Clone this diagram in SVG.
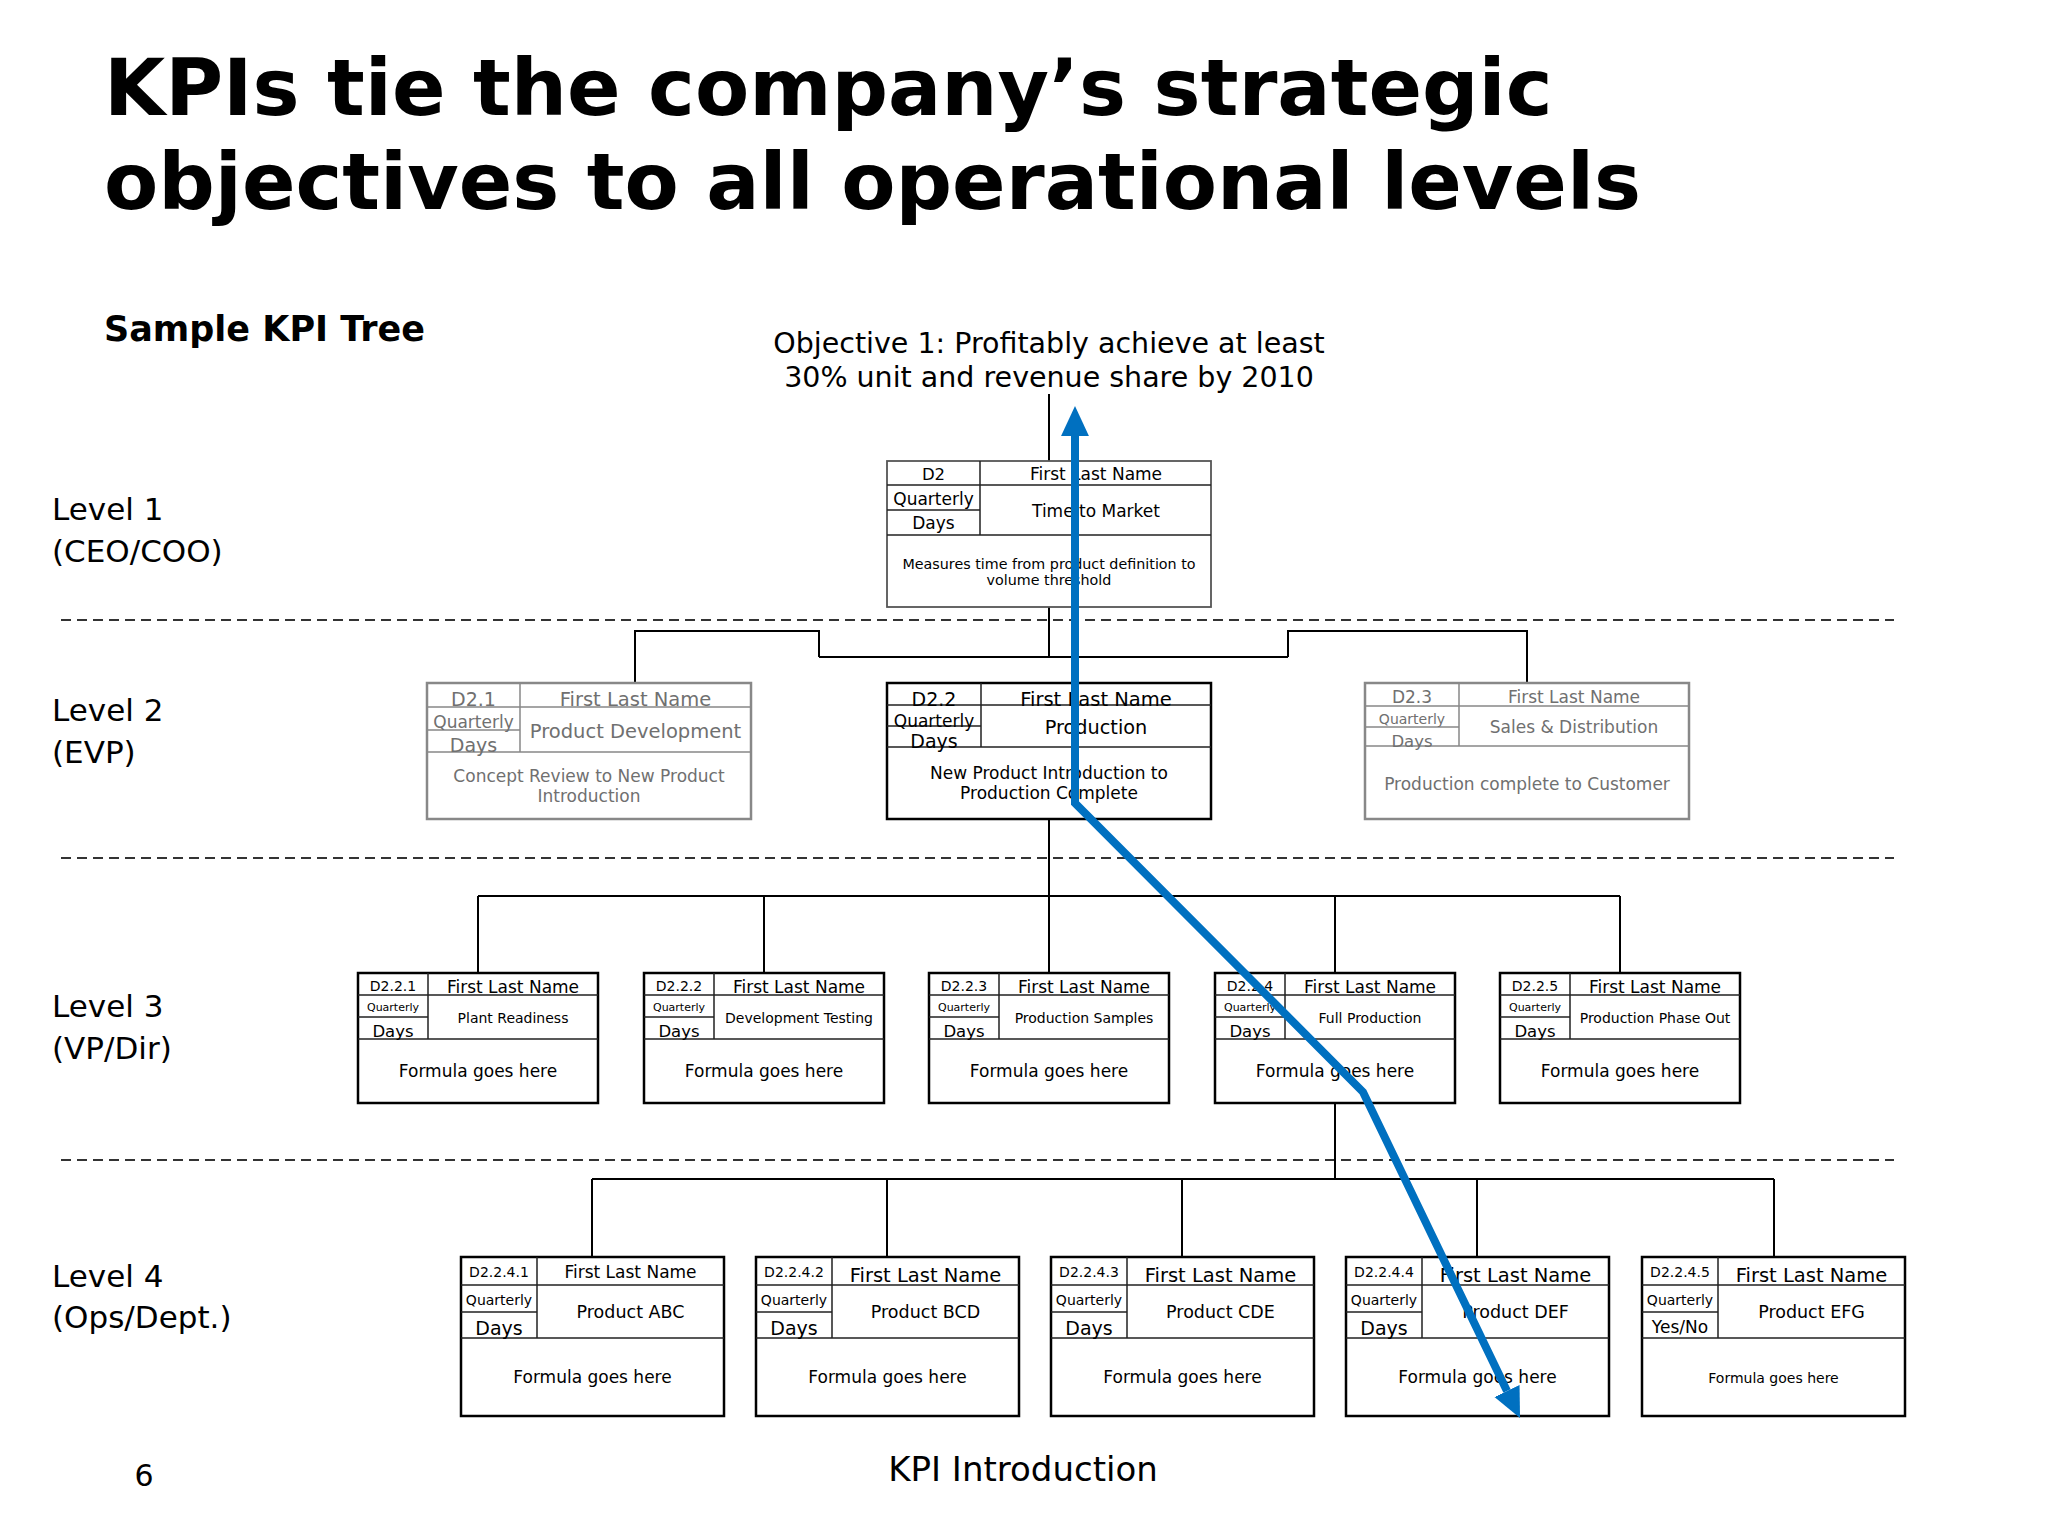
<svg xmlns="http://www.w3.org/2000/svg" width="2048" height="1536" viewBox="0 0 2048 1536">
<style>
text{font-family:"DejaVu Sans",Verdana,sans-serif;fill:#000}
.c{text-anchor:middle}
.title{font-weight:bold;font-size:79px}
.sub{font-weight:bold;font-size:35px}
.lvl{font-size:31px}
.box{fill:#fff;stroke:#000;stroke-width:2.5}
.ln{stroke:#000;stroke-width:2;fill:none}
.thin{stroke:#222;stroke-width:1.5;fill:none}
.g .box{stroke:#888}
.g .thin{stroke:#888}
.g text{fill:#707070}
.b1 .box{stroke:#555;stroke-width:1.8}
.dash{stroke:#333;stroke-width:2;stroke-dasharray:10 6}
.conn{stroke:#000;stroke-width:2;fill:none}
.arrow{stroke:#0070C0;stroke-width:8;fill:none;stroke-linejoin:miter}
</style>
<defs>
<marker id="ah" markerUnits="userSpaceOnUse" markerWidth="30" markerHeight="30" refX="0" refY="13" orient="auto-start-reverse" viewBox="0 0 28 26">
<path d="M0,0 L28,13 L0,26 Z" fill="#0070C0"/>
</marker>
</defs>
<rect width="2048" height="1536" fill="#fff"/>

<text class="title" x="104" y="115">KPIs tie the company’s strategic</text>
<text class="title" x="104" y="209">objectives to all operational levels</text>
<text class="sub" x="104" y="341">Sample KPI Tree</text>
<text class="c" x="1049" y="353" style="font-size:28.5px">Objective 1: Profitably achieve at least</text>
<text class="c" x="1049" y="387" style="font-size:28.5px">30% unit and revenue share by 2010</text>

<g id="level-labels">
<text class="lvl" x="52" y="520">Level 1</text>
<text class="lvl" x="52" y="562">(CEO/COO)</text>
<text class="lvl" x="52" y="721">Level 2</text>
<text class="lvl" x="52" y="763">(EVP)</text>
<text class="lvl" x="52" y="1017">Level 3</text>
<text class="lvl" x="52" y="1059">(VP/Dir)</text>
<text class="lvl" x="52" y="1287">Level 4</text>
<text class="lvl" x="52" y="1328">(Ops/Dept.)</text>
</g>

<g id="separators">
<line class="dash" x1="61" y1="620" x2="1894" y2="620"/>
<line class="dash" x1="61" y1="858" x2="1894" y2="858"/>
<line class="dash" x1="61" y1="1160" x2="1894" y2="1160"/>
</g>

<g id="connectors">
<line class="conn" x1="1049" y1="394" x2="1049" y2="461"/>
<path class="conn" d="M1049,607 V657 M819,657 H1288 M819,657 V631 H635 V683 M1288,657 V631 H1527 V683"/>
<path class="conn" d="M1049,819 V896 M478,896 H1620 M478,896 V973 M764,896 V973 M1049,896 V973 M1335,896 V973 M1620,896 V973"/>
<path class="conn" d="M1335,1103 V1179 M592,1179 H1774 M592,1179 V1257 M887,1179 V1257 M1182,1179 V1257 M1477,1179 V1257 M1774,1179 V1257"/>
</g>

<g id="node-d2" class="b1">
<rect class="box" x="887" y="461" width="324" height="146"/>
<path class="thin" d="M980,461 V535 M887,485 H1211 M887,510 H980 M887,535 H1211"/>
<text class="c" x="933.5" y="480" style="font-size:16.5px">D2</text>
<text class="c" x="1096" y="480" style="font-size:17px">First Last Name</text>
<text class="c" x="933.5" y="505" style="font-size:17px">Quarterly</text>
<text class="c" x="933.5" y="529" style="font-size:17px">Days</text>
<text class="c" x="1096" y="517" style="font-size:17px">Time to Market</text>
<text class="c" x="1049" y="569" style="font-size:14.3px">Measures time from product definition to</text>
<text class="c" x="1049" y="585" style="font-size:14.3px">volume threshold</text>
</g>

<g id="node-d2-1" class="g">
<rect class="box" x="427" y="683" width="324" height="136"/>
<path class="thin" d="M520,683 V752 M427,707 H751 M427,730 H520 M427,752 H751"/>
<text class="c" x="473.5" y="706" style="font-size:19px">D2.1</text>
<text class="c" x="635.5" y="706" style="font-size:19.5px">First Last Name</text>
<text class="c" x="473.5" y="728" style="font-size:17px">Quarterly</text>
<text class="c" x="473.5" y="752" style="font-size:19px">Days</text>
<text class="c" x="635.5" y="738" style="font-size:19.5px">Product Development</text>
<text class="c" x="589" y="782" style="font-size:17px">Concept Review to New Product</text>
<text class="c" x="589" y="802" style="font-size:17px">Introduction</text>
</g>

<g id="node-d2-2">
<rect class="box" x="887" y="683" width="324" height="136"/>
<path class="thin" d="M981,683 V747 M887,705 H1211 M887,726 H981 M887,747 H1211"/>
<text class="c" x="934" y="706" style="font-size:19px">D2.2</text>
<text class="c" x="1096" y="706" style="font-size:19.5px">First Last Name</text>
<text class="c" x="934" y="727" style="font-size:17px">Quarterly</text>
<text class="c" x="934" y="748" style="font-size:19px">Days</text>
<text class="c" x="1096" y="734" style="font-size:19.3px">Production</text>
<text class="c" x="1049" y="779" style="font-size:17px">New Product Introduction to</text>
<text class="c" x="1049" y="799" style="font-size:17px">Production Complete</text>
</g>

<g id="node-d2-3" class="g">
<rect class="box" x="1365" y="683" width="324" height="136"/>
<path class="thin" d="M1459,683 V746 M1365,706 H1689 M1365,727 H1459 M1365,746 H1689"/>
<text class="c" x="1412" y="703" style="font-size:17px">D2.3</text>
<text class="c" x="1574" y="703" style="font-size:17px">First Last Name</text>
<text class="c" x="1412" y="724" style="font-size:14px">Quarterly</text>
<text class="c" x="1412" y="747" style="font-size:16.5px">Days</text>
<text class="c" x="1574" y="733" style="font-size:17px">Sales &amp; Distribution</text>
<text class="c" x="1527" y="790" style="font-size:17px">Production complete to Customer</text>
</g>

<g id="node-d2-2-1">
<rect class="box" x="358" y="973" width="240" height="130"/>
<path class="thin" d="M428,973 V1039 M358,995 H598 M358,1017 H428 M358,1039 H598"/>
<text class="c" x="393" y="991" style="font-size:14px">D2.2.1</text>
<text class="c" x="513" y="993" style="font-size:17px">First Last Name</text>
<text class="c" x="393" y="1011" style="font-size:11px">Quarterly</text>
<text class="c" x="393" y="1037" style="font-size:16.5px">Days</text>
<text class="c" x="513" y="1023" style="font-size:14px">Plant Readiness</text>
<text class="c" x="478" y="1077" style="font-size:17px">Formula goes here</text>
</g>
<g id="node-d2-2-2">
<rect class="box" x="644" y="973" width="240" height="130"/>
<path class="thin" d="M714,973 V1039 M644,995 H884 M644,1017 H714 M644,1039 H884"/>
<text class="c" x="679" y="991" style="font-size:14px">D2.2.2</text>
<text class="c" x="799" y="993" style="font-size:17px">First Last Name</text>
<text class="c" x="679" y="1011" style="font-size:11px">Quarterly</text>
<text class="c" x="679" y="1037" style="font-size:16.5px">Days</text>
<text class="c" x="799" y="1023" style="font-size:14px">Development Testing</text>
<text class="c" x="764" y="1077" style="font-size:17px">Formula goes here</text>
</g>
<g id="node-d2-2-3">
<rect class="box" x="929" y="973" width="240" height="130"/>
<path class="thin" d="M999,973 V1039 M929,995 H1169 M929,1017 H999 M929,1039 H1169"/>
<text class="c" x="964" y="991" style="font-size:14px">D2.2.3</text>
<text class="c" x="1084" y="993" style="font-size:17px">First Last Name</text>
<text class="c" x="964" y="1011" style="font-size:11px">Quarterly</text>
<text class="c" x="964" y="1037" style="font-size:16.5px">Days</text>
<text class="c" x="1084" y="1023" style="font-size:14px">Production Samples</text>
<text class="c" x="1049" y="1077" style="font-size:17px">Formula goes here</text>
</g>
<g id="node-d2-2-4">
<rect class="box" x="1215" y="973" width="240" height="130"/>
<path class="thin" d="M1285,973 V1039 M1215,995 H1455 M1215,1017 H1285 M1215,1039 H1455"/>
<text class="c" x="1250" y="991" style="font-size:14px">D2.2.4</text>
<text class="c" x="1370" y="993" style="font-size:17px">First Last Name</text>
<text class="c" x="1250" y="1011" style="font-size:11px">Quarterly</text>
<text class="c" x="1250" y="1037" style="font-size:16.5px">Days</text>
<text class="c" x="1370" y="1023" style="font-size:14px">Full Production</text>
<text class="c" x="1335" y="1077" style="font-size:17px">Formula goes here</text>
</g>
<g id="node-d2-2-5">
<rect class="box" x="1500" y="973" width="240" height="130"/>
<path class="thin" d="M1570,973 V1039 M1500,995 H1740 M1500,1017 H1570 M1500,1039 H1740"/>
<text class="c" x="1535" y="991" style="font-size:14px">D2.2.5</text>
<text class="c" x="1655" y="993" style="font-size:17px">First Last Name</text>
<text class="c" x="1535" y="1011" style="font-size:11px">Quarterly</text>
<text class="c" x="1535" y="1037" style="font-size:16.5px">Days</text>
<text class="c" x="1655" y="1023" style="font-size:14px">Production Phase Out</text>
<text class="c" x="1620" y="1077" style="font-size:17px">Formula goes here</text>
</g>

<g id="node-d2-2-4-1">
<rect class="box" x="461" y="1257" width="263" height="159"/>
<path class="thin" d="M537,1257 V1338 M461,1285 H724 M461,1312 H537 M461,1338 H724"/>
<text class="c" x="499" y="1277" style="font-size:14px">D2.2.4.1</text>
<text class="c" x="630.5" y="1278" style="font-size:17px">First Last Name</text>
<text class="c" x="499" y="1305" style="font-size:14px">Quarterly</text>
<text class="c" x="499" y="1335" style="font-size:19px">Days</text>
<text class="c" x="630.5" y="1318" style="font-size:17.5px">Product ABC</text>
<text class="c" x="592.5" y="1383" style="font-size:17px">Formula goes here</text>
</g>
<g id="node-d2-2-4-2">
<rect class="box" x="756" y="1257" width="263" height="159"/>
<path class="thin" d="M832,1257 V1338 M756,1285 H1019 M756,1312 H832 M756,1338 H1019"/>
<text class="c" x="794" y="1277" style="font-size:14px">D2.2.4.2</text>
<text class="c" x="925.5" y="1282" style="font-size:19.5px">First Last Name</text>
<text class="c" x="794" y="1305" style="font-size:14px">Quarterly</text>
<text class="c" x="794" y="1335" style="font-size:19px">Days</text>
<text class="c" x="925.5" y="1318" style="font-size:17.5px">Product BCD</text>
<text class="c" x="887.5" y="1383" style="font-size:17px">Formula goes here</text>
</g>
<g id="node-d2-2-4-3">
<rect class="box" x="1051" y="1257" width="263" height="159"/>
<path class="thin" d="M1127,1257 V1338 M1051,1285 H1314 M1051,1312 H1127 M1051,1338 H1314"/>
<text class="c" x="1089" y="1277" style="font-size:14px">D2.2.4.3</text>
<text class="c" x="1220.5" y="1282" style="font-size:19.5px">First Last Name</text>
<text class="c" x="1089" y="1305" style="font-size:14px">Quarterly</text>
<text class="c" x="1089" y="1335" style="font-size:19px">Days</text>
<text class="c" x="1220.5" y="1318" style="font-size:17.5px">Product CDE</text>
<text class="c" x="1182.5" y="1383" style="font-size:17px">Formula goes here</text>
</g>
<g id="node-d2-2-4-4">
<rect class="box" x="1346" y="1257" width="263" height="159"/>
<path class="thin" d="M1422,1257 V1338 M1346,1285 H1609 M1346,1312 H1422 M1346,1338 H1609"/>
<text class="c" x="1384" y="1277" style="font-size:14px">D2.2.4.4</text>
<text class="c" x="1515.5" y="1282" style="font-size:19.5px">First Last Name</text>
<text class="c" x="1384" y="1305" style="font-size:14px">Quarterly</text>
<text class="c" x="1384" y="1335" style="font-size:19px">Days</text>
<text class="c" x="1515.5" y="1318" style="font-size:17.5px">Product DEF</text>
<text class="c" x="1477.5" y="1383" style="font-size:17px">Formula goes here</text>
</g>
<g id="node-d2-2-4-5">
<rect class="box" x="1642" y="1257" width="263" height="159"/>
<path class="thin" d="M1718,1257 V1338 M1642,1285 H1905 M1642,1312 H1718 M1642,1338 H1905"/>
<text class="c" x="1680" y="1277" style="font-size:14px">D2.2.4.5</text>
<text class="c" x="1811.5" y="1282" style="font-size:19.5px">First Last Name</text>
<text class="c" x="1680" y="1305" style="font-size:14px">Quarterly</text>
<text class="c" x="1680" y="1333" style="font-size:17px">Yes/No</text>
<text class="c" x="1811.5" y="1318" style="font-size:17.5px">Product EFG</text>
<text class="c" x="1773.5" y="1383" style="font-size:14px">Formula goes here</text>
</g>

<g id="blue-arrow">
<polyline class="arrow" points="1075,436 1075,803 1363,1092 1507,1391" marker-start="url(#ah)" marker-end="url(#ah)"/>
</g>

<text class="c" x="144" y="1486" style="font-size:30px">6</text>
<text class="c" x="1023" y="1481" style="font-size:34px">KPI Introduction</text>
</svg>
